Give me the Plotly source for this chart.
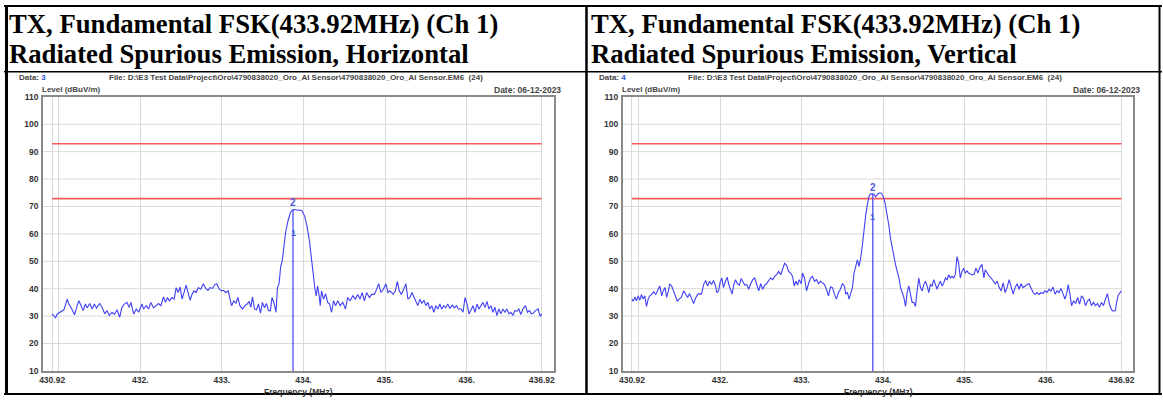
import plotly.graph_objects as go

# ---------------- data ----------------
H_FREQ = [430.920, 430.962, 430.983, 431.023, 431.064, 431.105, 431.125, 431.166, 431.194, 431.227,
          431.247, 431.276, 431.300, 431.328, 431.349, 431.381, 431.410, 431.438, 431.463, 431.503,
          431.532, 431.565, 431.593, 431.621, 431.654, 431.683, 431.715, 431.748, 431.776, 431.805,
          431.837, 431.862, 431.886, 431.919, 431.951, 431.980, 432.020, 432.041, 432.073, 432.102,
          432.130, 432.163, 432.195, 432.224, 432.252, 432.285, 432.309, 432.334, 432.358, 432.387,
          432.415, 432.440, 432.464, 432.488, 432.513, 432.537, 432.562, 432.586, 432.611, 432.635,
          432.659, 432.684, 432.712, 432.741, 432.773, 432.802, 432.830, 432.855, 432.887, 432.912,
          432.936, 432.969, 432.997,
          433.017, 433.050, 433.078, 433.099, 433.119, 433.147, 433.172, 433.196, 433.221, 433.253,
          433.282, 433.310, 433.335, 433.355, 433.375, 433.400, 433.424, 433.449, 433.473, 433.497,
          433.522, 433.546, 433.571, 433.595, 433.615, 433.640, 433.664, 433.681, 433.701, 433.721,
          433.738, 433.758, 433.782, 433.811, 433.839, 433.864, 433.892, 433.933, 433.962, 433.986,
          434.014, 434.043, 434.075, 434.100, 434.124, 434.141, 434.157, 434.173, 434.190, 434.206,
          434.222, 434.247, 434.271, 434.296, 434.320, 434.344, 434.369, 434.393, 434.421, 434.450,
          434.482, 434.515, 434.543, 434.572, 434.605, 434.637, 434.665, 434.694, 434.718, 434.747,
          434.775, 434.808, 434.840, 434.869, 434.897, 434.922, 434.950, 434.979, 435.011, 435.036,
          435.060, 435.093,
          435.101, 435.126, 435.150, 435.174, 435.199, 435.223, 435.256, 435.280, 435.305, 435.329,
          435.354, 435.378, 435.402, 435.427, 435.451, 435.476, 435.500, 435.525, 435.549, 435.573,
          435.598, 435.622, 435.647, 435.671, 435.695, 435.720, 435.744, 435.769, 435.793, 435.826,
          435.850, 435.875, 435.899, 435.932, 435.956, 435.980, 436.005, 436.029, 436.054, 436.078,
          436.102, 436.127, 436.151, 436.176, 436.200, 436.225, 436.249, 436.273, 436.298, 436.322,
          436.347, 436.371, 436.395, 436.420, 436.444, 436.469, 436.493, 436.518, 436.542, 436.566,
          436.591, 436.615, 436.640, 436.664, 436.689, 436.721, 436.745, 436.770, 436.794, 436.819,
          436.843, 436.876, 436.900, 436.920]
H_LEVEL = [30.8, 29.4, 30.8, 31.7, 32.3, 36.2, 34.4, 32.3, 30.5, 33.8,
           35.6, 33.8, 32.0, 34.4, 33.0, 34.6, 32.6, 34.4, 32.9, 34.6,
           33.2, 30.8, 32.0, 30.2, 31.4, 30.6, 32.3, 29.6, 33.2, 34.4,
           35.0, 33.2, 35.0, 30.8, 32.6, 31.4, 34.4, 32.6, 33.8, 32.6,
           35.0, 33.0, 33.8, 34.6, 33.8, 37.0, 35.0, 36.8, 35.4, 36.8,
           36.2, 40.4, 38.6, 40.6, 36.2, 39.2, 41.3, 38.6, 35.8, 38.0,
           39.2, 38.6, 40.4, 39.8, 41.8, 40.1, 39.4, 40.4, 40.1, 41.5,
           41.8, 39.8, 39.2,
           39.4, 38.6, 39.2, 36.2, 33.8, 35.6, 34.6, 36.8, 33.8, 32.6,
           33.8, 34.4, 35.4, 33.2, 37.0, 32.6, 32.3, 34.4, 31.1, 35.0,
           33.0, 34.6, 32.0, 32.0, 36.8, 34.6, 31.4, 40.4, 41.8, 48.1,
           49.9, 54.6, 60.6, 64.8, 67.7, 68.7, 68.9, 68.6, 68.7, 68.3,
           66.5, 63.0, 57.0, 50.5, 43.9, 39.8, 37.4, 41.0, 38.0, 33.8,
           39.2, 36.2, 38.2, 35.0, 34.4, 31.4, 35.6, 33.8, 35.6, 33.8,
           35.0, 32.6, 36.8, 35.6, 37.4, 36.2, 37.9, 36.2, 38.6, 35.6,
           38.6, 36.8, 38.0, 37.9, 39.8, 41.8, 38.6, 39.8, 41.8, 38.6,
           39.2, 38.2,
           38.0, 39.2, 42.7, 39.2, 37.9, 39.4, 41.8, 36.2, 36.8, 38.6,
           37.0, 35.6, 33.8, 36.2, 34.6, 35.8, 33.8, 35.0, 32.6, 33.8,
           31.4, 33.8, 32.6, 34.4, 32.6, 33.8, 33.0, 34.4, 32.9, 34.0,
           33.0, 33.8, 32.6, 32.6, 31.4, 36.8, 34.4, 30.8, 32.6, 33.8,
           31.4, 34.4, 32.6, 33.8, 35.0, 33.2, 35.4, 32.6, 33.8, 31.4,
           33.2, 30.2, 32.6, 30.8, 32.6, 31.4, 32.6, 30.8, 31.4, 30.2,
           32.0, 31.8, 32.6, 30.6, 32.6, 33.8, 31.4, 32.0, 30.8, 31.1,
           32.0, 32.6, 29.9, 30.8]

V_FREQ = [430.920, 430.935, 430.956, 430.976, 430.996, 431.017, 431.037, 431.057, 431.078, 431.098,
          431.119, 431.139, 431.163, 431.188, 431.212, 431.237, 431.261, 431.285, 431.302, 431.326,
          431.346, 431.367, 431.383, 431.407, 431.432, 431.456, 431.477, 431.497, 431.525, 431.554,
          431.578, 431.603, 431.627, 431.652, 431.676, 431.700, 431.725, 431.749, 431.773, 431.798,
          431.823, 431.847, 431.871, 431.896, 431.920, 431.945, 431.961, 431.981, 432.002, 432.022,
          432.042, 432.067, 432.087, 432.107, 432.128, 432.148, 432.168, 432.189, 432.213, 432.237,
          432.258, 432.278, 432.303, 432.327, 432.351, 432.376, 432.400, 432.425, 432.449, 432.474,
          432.498, 432.522, 432.547, 432.571, 432.596, 432.620, 432.645, 432.669, 432.694, 432.718,
          432.743, 432.767, 432.791, 432.816, 432.840, 432.865, 432.889, 432.909, 432.930, 432.950,
          432.970, 432.995,
          433.011, 433.035, 433.060, 433.084, 433.109, 433.133, 433.157, 433.182, 433.206, 433.231,
          433.255, 433.280, 433.304, 433.329, 433.353, 433.377, 433.402, 433.426, 433.451, 433.475,
          433.499, 433.524, 433.540, 433.561, 433.581, 433.601, 433.622, 433.642, 433.662, 433.683,
          433.703, 433.723, 433.744, 433.764, 433.784, 433.805, 433.825, 433.845, 433.870, 433.890,
          433.906, 433.927, 433.947, 433.972, 433.996, 434.021, 434.045, 434.069, 434.090, 434.110,
          434.130, 434.151, 434.171, 434.192, 434.212, 434.232, 434.253, 434.273, 434.293, 434.314,
          434.334, 434.354, 434.375, 434.395, 434.415, 434.436, 434.456, 434.477, 434.497, 434.517,
          434.538, 434.558, 434.578, 434.599, 434.619, 434.639, 434.660, 434.680, 434.700, 434.721,
          434.741, 434.761, 434.782, 434.802, 434.822, 434.843, 434.863, 434.883, 434.904, 434.924,
          434.944, 434.965, 434.985, 435.005, 435.026, 435.046, 435.087,
          435.111, 435.136, 435.160, 435.184, 435.209, 435.233, 435.250, 435.274, 435.299, 435.323,
          435.347, 435.372, 435.396, 435.421, 435.445, 435.470, 435.494, 435.518, 435.543, 435.567,
          435.592, 435.616, 435.641, 435.665, 435.689, 435.714, 435.738, 435.763, 435.787, 435.811,
          435.836, 435.860, 435.885, 435.909, 435.934, 435.958, 435.982, 436.007, 436.031, 436.056,
          436.080, 436.105, 436.129, 436.153, 436.178, 436.202, 436.227, 436.251, 436.267, 436.288,
          436.308, 436.333, 436.357, 436.382, 436.406, 436.430, 436.455, 436.479, 436.504, 436.528,
          436.552, 436.577, 436.601, 436.626, 436.650, 436.675, 436.699, 436.723, 436.747, 436.772,
          436.796, 436.821, 436.845, 436.862, 436.878, 436.902, 436.920]
V_LEVEL = [36.2, 35.4, 37.0, 35.6, 37.4, 35.8, 37.9, 36.2, 37.4, 33.5,
           36.2, 37.4, 38.0, 38.9, 37.9, 39.2, 41.0, 37.4, 39.2, 40.4,
           36.8, 39.2, 41.8, 41.0, 39.2, 37.4, 35.4, 36.2, 36.8, 39.2,
           38.0, 36.8, 38.2, 36.2, 34.6, 36.5, 38.0, 38.2, 38.0, 41.5,
           43.0, 41.0, 42.7, 41.5, 43.0, 41.0, 38.6, 39.2, 42.5, 43.9,
           40.4, 42.7, 44.2, 41.5, 39.2, 38.0, 41.5, 43.3, 41.8, 41.3,
           43.7, 42.7, 41.3, 41.5, 39.8, 41.8, 43.3, 43.9, 41.5, 39.2,
           41.8, 39.8, 41.3, 41.8, 43.0, 43.9, 43.3, 44.5, 45.1, 46.3,
           45.1, 47.5, 49.3, 48.5, 46.3, 45.7, 44.5, 41.0, 42.7, 41.3,
           43.3, 41.8,
           45.7, 43.9, 39.2, 41.8, 43.9, 44.5, 42.7, 43.3, 41.8, 42.7,
           42.1, 41.5, 39.8, 37.4, 40.6, 40.4, 38.0, 36.2, 38.6, 39.8,
           41.8, 41.0, 38.0, 38.6, 36.2, 38.6, 40.4, 45.7, 48.1, 50.5,
           48.1, 51.1, 55.8, 61.8, 66.5, 70.7, 73.7, 74.6, 74.6, 74.3,
           73.5, 74.3, 74.9, 74.9, 73.9, 71.5, 67.7, 63.0, 58.2, 54.6,
           51.1, 48.7, 46.3, 43.9, 40.4, 38.6, 36.8, 33.5, 38.6, 41.0,
           38.0, 35.0, 35.0, 33.5, 39.2, 43.9, 40.4, 39.2, 41.5, 42.7,
           41.0, 38.6, 41.5, 41.0, 43.3, 41.8, 39.8, 41.5, 42.7, 41.0,
           42.1, 43.9, 43.3, 45.1, 43.9, 44.5, 43.9, 45.1, 51.7, 49.3,
           43.9, 46.3, 47.5, 45.7, 46.5, 45.7, 45.1,
           45.1, 47.5, 45.7, 47.7, 48.9, 43.9, 46.9, 45.7, 44.5, 43.9,
           42.7, 41.8, 42.7, 40.4, 39.2, 42.1, 38.6, 40.4, 43.3, 40.4,
           38.0, 40.4, 41.8, 39.8, 41.8, 40.4, 41.0, 41.5, 41.8, 40.4,
           38.6, 37.9, 38.6, 37.9, 38.6, 38.2, 39.2, 38.6, 39.8, 39.2,
           40.6, 38.0, 39.2, 38.6, 40.1, 38.2, 36.2, 38.6, 41.5, 38.0,
           33.8, 35.6, 34.6, 36.8, 34.4, 37.4, 36.5, 33.8, 35.6, 36.2,
           33.8, 35.0, 33.8, 34.6, 33.2, 35.0, 33.8, 36.2, 38.2, 34.4,
           32.3, 31.8, 32.0, 35.4, 37.4, 38.6, 39.2]

FREQ_START, FREQ_STOP = 430.92, 436.92
X_TICKS = [430.92, 431, 432, 433, 434, 435, 436, 436.92]
X_TICK_TEXT = ["430.92", "", "432.", "433.", "434.", "435.", "436.", "436.92"]
Y_TICKS = [10, 20, 30, 40, 50, 60, 70, 80, 90, 100, 110]
LIMIT_PEAK = 92.87
LIMIT_AVG = 72.87
MARKER_FREQ = 433.872
H_MARK1, H_MARK2 = 60.2, 68.9
V_MARK1, V_MARK2 = 66.2, 74.6

TITLE_1 = "TX, Fundamental FSK(433.92MHz) (Ch 1)"
TITLE_2 = ["Radiated Spurious Emission, Horizontal", "Radiated Spurious Emission, Vertical"]
DATA_NO = ["3", "4"]
FILE_TXT = "File: D:\\E3 Test Data\\Project\\Oro\\4790838020_Oro_AI Sensor\\4790838020_Oro_AI Sensor.EM6  (24)"
DATE_TXT = "Date: 06-12-2023"

# ---------------- layout helpers ----------------
W, H = 1163, 400
def px(x):
    return x / W
def py(y):
    return 1 - y / H

NARROW = "Liberation Sans Narrow, Arial Narrow, Liberation Sans, Arial, sans-serif"
SERIF = "Liberation Serif, Times New Roman, serif"
TRACE_C = "#4040f4"
RED = "#ff5a5a"
GRID = "#d9d9d9"
FRAME = "#8a8a8a"
X_RANGE = [430.806, 437.066]
Y_RANGE = [10, 110]
OFFSET = 582.3

fig = go.Figure()
shapes = []
annotations = []

panels = [("x", "y", H_FREQ, H_LEVEL, H_MARK1, H_MARK2, 0.0),
          ("x2", "y2", V_FREQ, V_LEVEL, V_MARK1, V_MARK2, OFFSET)]

for i, (xa, ya, fr, lv, m1, m2, off) in enumerate(panels):
    # horizontal grid lines
    for g in Y_TICKS[1:-1]:
        shapes.append(dict(type="line", xref=xa, yref=ya, x0=X_RANGE[0], x1=FREQ_STOP, y0=g, y1=g,
                           line=dict(color=GRID, width=1), layer="below"))
    # limit lines
    for lim in (LIMIT_PEAK, LIMIT_AVG):
        fig.add_trace(go.Scatter(x=[FREQ_START, FREQ_STOP], y=[lim, lim], mode="lines",
                                 line=dict(color=RED, width=1.6), xaxis=xa, yaxis=ya,
                                 showlegend=False, hoverinfo="skip"))
    # measurement trace
    fig.add_trace(go.Scatter(x=fr, y=lv, mode="lines", line=dict(color=TRACE_C, width=1.1),
                             xaxis=xa, yaxis=ya, showlegend=False))
    # marker line
    fig.add_trace(go.Scatter(x=[MARKER_FREQ, MARKER_FREQ], y=[Y_RANGE[0], m2], mode="lines",
                             line=dict(color=TRACE_C, width=1.2), xaxis=xa, yaxis=ya,
                             showlegend=False, hoverinfo="skip"))
    annotations.append(dict(x=MARKER_FREQ, y=m2, xref=xa, yref=ya, text="2", showarrow=False,
                            yanchor="bottom", yshift=-1,
                            font=dict(family=NARROW, size=10, color="#4a58d8", weight="bold")))
    annotations.append(dict(x=MARKER_FREQ, y=m1, xref=xa, yref=ya, text="1", showarrow=False,
                            font=dict(family=NARROW, size=9, color="#4a58d8", weight="bold")))

    # header titles
    tx = px(3 + off + (2 if i else 0))
    annotations.append(dict(x=tx, y=py(19), xref="paper", yref="paper",
                            text="<b>%s</b>" % TITLE_1, showarrow=False, xanchor="left", yanchor="middle",
                            font=dict(family=SERIF, size=26.7, color="black", weight="bold")))
    annotations.append(dict(x=tx, y=py(50), xref="paper", yref="paper",
                            text="<b>%s</b>" % TITLE_2[i], showarrow=False, xanchor="left", yanchor="middle",
                            font=dict(family=SERIF, size=26.7, color="black", weight="bold")))
    # chart small texts
    annotations.append(dict(x=px(13 + off), y=py(74), xref="paper", yref="paper",
                            text="<span style='color:#444'>Data:</span> <span style='color:#2f55d4'>%s</span>" % DATA_NO[i],
                            showarrow=False, xanchor="left", yanchor="middle",
                            font=dict(family=NARROW, size=8, weight="bold")))
    annotations.append(dict(x=px(103 + off), y=py(74), xref="paper", yref="paper", text=FILE_TXT,
                            showarrow=False, xanchor="left", yanchor="middle",
                            font=dict(family=NARROW, size=8, color="#444", weight="bold")))
    annotations.append(dict(x=px(36 + off), y=py(87), xref="paper", yref="paper", text="Level (dBuV/m)",
                            showarrow=False, xanchor="left", yanchor="middle",
                            font=dict(family=NARROW, size=8, color="#444", weight="bold")))
    annotations.append(dict(x=px(561 + off), y=py(87), xref="paper", yref="paper", text=DATE_TXT,
                            showarrow=False, xanchor="right", yanchor="middle",
                            font=dict(family=NARROW, size=8.5, color="#444", weight="bold")))
    annotations.append(dict(x=px(295.5 + off), y=py(397), xref="paper", yref="paper", text="Frequency (MHz)",
                            showarrow=False, xanchor="center", yanchor="middle",
                            font=dict(family=NARROW, size=8.5, color="#333", weight="bold")))

# table borders
def hline(y, x0, x1, w):
    shapes.append(dict(type="line", xref="paper", yref="paper", x0=px(x0), x1=px(x1), y0=py(y), y1=py(y),
                       line=dict(color="black", width=w)))
def vline(x, y0, y1, w):
    shapes.append(dict(type="line", xref="paper", yref="paper", x0=px(x), x1=px(x), y0=py(y0), y1=py(y1),
                       line=dict(color="black", width=w)))

hline(1, 0, W, 2)
hline(68.5, 0, W, 1.5)
hline(399, 0, W, 2)
vline(2.5, 0, H, 3)
vline(585, 0, H, 2.5)
vline(1160.5, 0, H, 2)

tick_font = dict(family=NARROW, size=8.5, color="#333", weight="bold")
axis_common = dict(range=X_RANGE, tickvals=X_TICKS, ticktext=X_TICK_TEXT, showgrid=True, gridcolor=GRID,
                   gridwidth=1, zeroline=False, showline=True, linecolor=FRAME, linewidth=1.5, mirror=True,
                   ticks="", tickfont=tick_font, ticklabelstandoff=0)
yaxis_common = dict(range=Y_RANGE, tickvals=Y_TICKS, ticktext=[str(v) for v in Y_TICKS], showgrid=False,
                    zeroline=False, showline=True, linecolor=FRAME, linewidth=1.5, mirror=True,
                    ticks="", tickfont=tick_font, ticklabelstandoff=1)

y_dom = [py(375.3), py(94.2)]
fig.update_layout(
    width=W, height=H, margin=dict(l=0, r=0, t=0, b=0),
    paper_bgcolor="white", plot_bgcolor="white", showlegend=False,
    xaxis=dict(domain=[px(39), px(552)], anchor="y", **axis_common),
    yaxis=dict(domain=y_dom, anchor="x", **yaxis_common),
    xaxis2=dict(domain=[px(39 + OFFSET), px(552 + OFFSET)], anchor="y2", **axis_common),
    yaxis2=dict(domain=y_dom, anchor="x2", **yaxis_common),
    shapes=shapes, annotations=annotations,
)

fig.write_html("out.html")
